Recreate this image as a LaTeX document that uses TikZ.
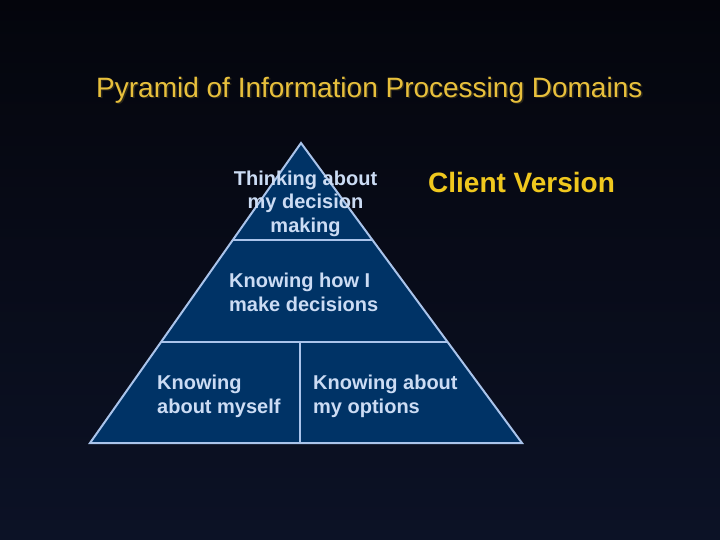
\documentclass[tikz,border=0pt]{standalone}
\usepackage{fontspec}
\setmainfont{Liberation Sans}
\usetikzlibrary{calc}
\definecolor{bgtop}{RGB}{4,5,12}
\definecolor{bgbot}{RGB}{12,18,38}
\definecolor{pyrfill}{RGB}{0,51,102}
\definecolor{pyrline}{RGB}{170,196,235}
\definecolor{pyrtext}{RGB}{204,220,244}
\definecolor{titlecol}{RGB}{232,192,60}
\definecolor{shadowcol}{RGB}{45,40,25}
\definecolor{clientcol}{RGB}{240,200,30}
\tikzset{
  pyrtxt/.style={inner sep=0pt, text=pyrtext, font=\fontsize{20}{23}\selectfont\bfseries},
  edge/.style={draw=pyrline, line width=2pt},
}
\begin{document}
\begin{tikzpicture}[x=1pt,y=-1pt]
\useasboundingbox (0,0) rectangle (720,540);
\shade[top color=bgtop, bottom color=bgbot] (0,0) rectangle (720,540);
% title
\node[anchor=base west, inner sep=0pt, text=shadowcol, font=\fontsize{28}{32}\selectfont] (titleshadow) at (97.5,99) {Pyramid of Information Processing Domains};
\node[anchor=base west, inner sep=0pt, text=titlecol, font=\fontsize{28}{32}\selectfont] (title) at (96,97.5) {Pyramid of Information Processing Domains};
% pyramid
\coordinate (A) at (301,143);
\coordinate (BL) at (90,443);
\coordinate (BR) at (522,443);
\coordinate (L1) at ($(A)!0.3233!(BL)$);
\coordinate (R1) at ($(A)!0.3233!(BR)$);
\coordinate (L2) at ($(A)!0.6633!(BL)$);
\coordinate (R2) at ($(A)!0.6633!(BR)$);
\coordinate (M2) at (300,342);
\coordinate (M3) at (300,443);
\fill[pyrfill] (A) -- (BL) -- (BR) -- cycle;
\draw[edge, line join=miter] (A) -- (BL) -- (BR) -- cycle;
\draw[edge] (L1) -- (R1);
\draw[edge] (L2) -- (R2);
\draw[edge] (M2) -- (M3);
% texts
\node[pyrtxt, anchor=base] (t1) at (305.5,185.5) {Thinking about};
\node[pyrtxt, anchor=base] (t2) at (305.5,209) {my decision};
\node[pyrtxt, anchor=base] (t3) at (305.5,232.5) {making};
\node[pyrtxt, anchor=base west] (k1) at (229,287) {Knowing how I};
\node[pyrtxt, anchor=base west] (k2) at (229,311) {make decisions};
\node[pyrtxt, anchor=base west] (s1) at (157,389) {Knowing};
\node[pyrtxt, anchor=base west] (s2) at (157,413) {about myself};
\node[pyrtxt, anchor=base west] (o1) at (313,389) {Knowing about};
\node[pyrtxt, anchor=base west] (o2) at (313,413) {my options};
\node[anchor=base west, inner sep=0pt, text=clientcol, font=\fontsize{28}{32}\selectfont\bfseries] (client) at (428,193) {Client Version};
\end{tikzpicture}
\end{document}
